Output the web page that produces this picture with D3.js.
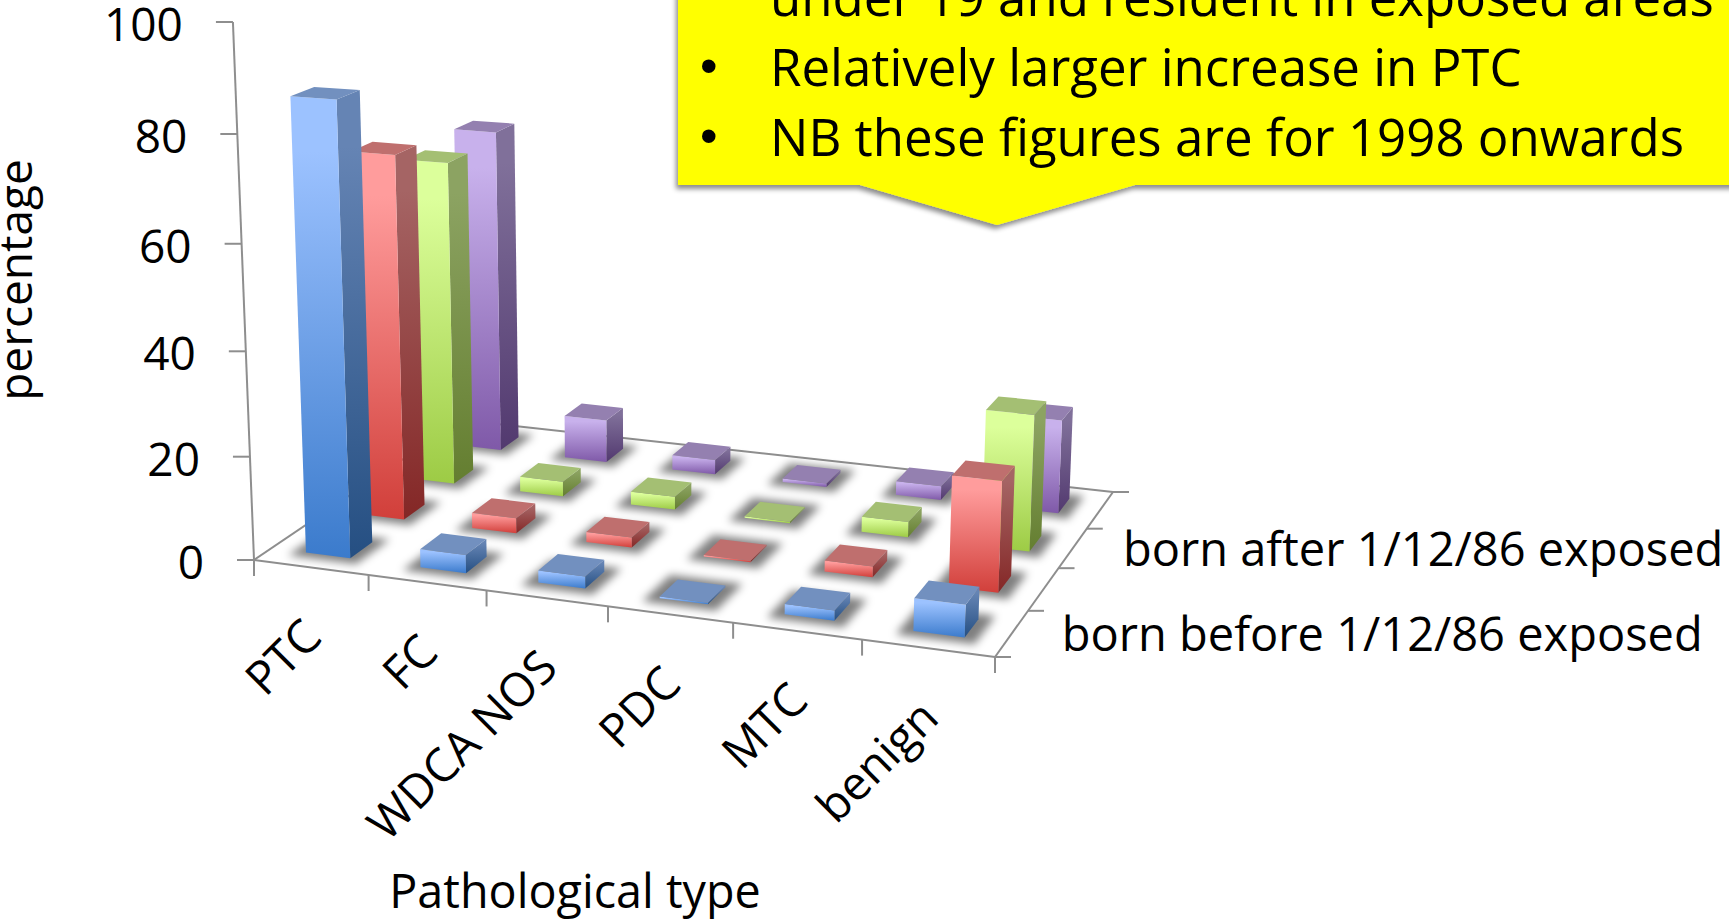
<!DOCTYPE html>
<html lang="en">
	<head>
		<meta charset="utf-8">
		<title>Pathological type, 3D columns</title>
		<script type="text/javascript" src="https://cdn.jsdelivr.net/npm/d3@7"></script>
		<style type="text/css">
			html, body { margin: 0; padding: 0; background: white; }
			svg { display: block; }
			text { font-family: "Open Sans", sans-serif; fill: black; }
		</style>
	</head>
	<body>
		<script type="text/javascript">

			//The data
			var categories = ["PTC", "FC", "WDCA NOS", "PDC", "MTC", "benign"];
			var seriesNames = ["born before 1/12/86 exposed", "", "born after 1/12/86 exposed", ""];
			var seriesA = [86, 3.5, 2.3, 0.3, 1.9, 6];
			var seriesB = [71.3, 3, 2, 0.3, 2.1, 21];
			var seriesC = [65, 3, 2.6, 0.3, 3, 26.5];
			var seriesD = [66.5, 8.8, 3, 0.7, 2.8, 18.7];
			var yTicks = [0, 20, 40, 60, 80, 100];
			var calloutLines = ["under 19 and resident in exposed areas", "Relatively larger increase in PTC", "NB these figures are for 1998 onwards"];

			//Width and height
			var w = 1729;
			var h = 923;

			var seriesValues = [seriesA, seriesB, seriesC, seriesD];

			//Face colours for each series
			var faceColors = [
				{ frontTop: "#9cc2ff", frontBottom: "#3b7bcc", sideTop: "#6584b4", sideBottom: "#254f82", top: "#7290bf" },
				{ frontTop: "#ff9c9c", frontBottom: "#d13f3a", sideTop: "#a56464", sideBottom: "#842726", top: "#bf6f6e" },
				{ frontTop: "#dcff9b", frontBottom: "#9dcb45", sideTop: "#8ca362", sideBottom: "#647e30", top: "#a4bf73" },
				{ frontTop: "#c8b1ec", frontBottom: "#7f59a8", sideTop: "#80709a", sideBottom: "#52396f", top: "#9480b0" }
			];

			//Floor corners on screen: front left, front right, back right, back left
			var floor = [[254, 560], [995, 657], [1113, 492], [461, 420]];
			//Where the verticals meet, and how strong the height column is
			var vanish = [659, 10900];
			var heightW = -0.04946;

			//Square to quad homography
			var dx1 = floor[1][0] - floor[2][0], dx2 = floor[3][0] - floor[2][0];
			var dy1 = floor[1][1] - floor[2][1], dy2 = floor[3][1] - floor[2][1];
			var sx = floor[0][0] - floor[1][0] + floor[2][0] - floor[3][0];
			var sy = floor[0][1] - floor[1][1] + floor[2][1] - floor[3][1];
			var det = dx1 * dy2 - dx2 * dy1;
			var pg = (sx * dy2 - dx2 * sy) / det;
			var ph = (dx1 * sy - sx * dy1) / det;
			var pa = floor[1][0] - floor[0][0] + pg * floor[1][0];
			var pb = floor[3][0] - floor[0][0] + ph * floor[3][0];
			var pd = floor[1][1] - floor[0][1] + pg * floor[1][1];
			var pe = floor[3][1] - floor[0][1] + ph * floor[3][1];

			//u along categories, v into the picture, t up, all 0 to 1
			var project = function(u, v, t) {
				var cw = t * heightW;
				var pw = pg * u + ph * v + 1 + cw;
				return [
					(pa * u + pb * v + floor[0][0] + cw * vanish[0]) / pw,
					(pd * u + pe * v + floor[0][1] + cw * vanish[1]) / pw
				];
			};

			//Scales
			var xScale = d3.scaleBand()
							.domain(categories)
							.range([0, 1])
							.paddingInner(0.61)
							.paddingOuter(0.305);

			var zScale = d3.scaleBand()
							.domain(d3.range(seriesNames.length))
							.range([0, 1])
							.paddingInner(0.6)
							.paddingOuter(0.3);

			var yScale = d3.scaleLinear()
							.domain([0, 100])
							.range([0, 1]);

			var line = d3.line();
			var polygon = function(points) { return line(points) + "Z"; };

			//Create SVG element
			var svg = d3.select("body")
						.append("svg")
						.attr("width", w)
						.attr("height", h);

			var defs = svg.append("defs");

			var blur = defs.append("filter")
							.attr("id", "soft")
							.attr("x", "-40%").attr("y", "-60%")
							.attr("width", "180%").attr("height", "220%");
			blur.append("feGaussianBlur").attr("stdDeviation", 4.5);

			var callShadow = defs.append("filter")
							.attr("id", "callShadow")
							.attr("x", "-5%").attr("y", "-5%")
							.attr("width", "110%").attr("height", "115%");
			callShadow.append("feDropShadow")
						.attr("dx", -2).attr("dy", 4)
						.attr("stdDeviation", 2.5)
						.attr("flood-color", "#000")
						.attr("flood-opacity", 0.45);

			//Vertical gradients per series
			faceColors.forEach(function(c, i) {
				[["front", c.frontTop, c.frontBottom], ["side", c.sideTop, c.sideBottom]].forEach(function(f) {
					var grad = defs.append("linearGradient")
									.attr("id", f[0] + i)
									.attr("x1", 0).attr("y1", 0)
									.attr("x2", 0).attr("y2", 1);
					grad.append("stop").attr("offset", "12%").attr("stop-color", f[1]);
					grad.append("stop").attr("offset", "100%").attr("stop-color", f[2]);
				});
			});

			var axisColor = "#8e8e8e";
			var axes = svg.append("g")
							.attr("stroke", axisColor)
							.attr("stroke-width", 2)
							.attr("fill", "none");

			var drawLine = function(a, b) {
				axes.append("path").attr("d", line([a, b]));
			};

			//Floor edges and the upright axis
			drawLine(project(0, 0, 0), project(1, 0, 0));
			drawLine(project(1, 0, 0), project(1, 1, 0));
			drawLine(project(1, 1, 0), project(0, 1, 0));
			drawLine(project(0, 1, 0), project(0, 0, 0));
			drawLine(project(0, 0, 0), project(0, 0, 1));

			//Y ticks and labels
			yTicks.forEach(function(d) {
				var p = project(0, 0, yScale(d));
				drawLine(p, [p[0] - 17, p[1]]);
				svg.append("text")
					.attr("x", p[0] - 50)
					.attr("y", p[1] + 19)
					.attr("text-anchor", "end")
					.attr("font-size", 46)
					.text(d);
			});

			//X ticks
			d3.range(categories.length + 1).forEach(function(i) {
				var p = project(i * xScale.step(), 0, 0);
				drawLine(p, [p[0], p[1] + 16]);
			});

			//Depth ticks
			d3.range(seriesNames.length + 1).forEach(function(i) {
				var p = project(1, i * zScale.step(), 0);
				drawLine(p, [p[0] + 16, p[1]]);
			});

			//Bars, back row first
			var rows = d3.range(seriesNames.length).reverse();
			var shadows = svg.append("g").attr("filter", "url(#soft)");
			var bars = svg.append("g");

			rows.forEach(function(s) {
				categories.forEach(function(cat, i) {
					var u0 = xScale(cat), u1 = u0 + xScale.bandwidth();
					var v0 = zScale(s), v1 = v0 + zScale.bandwidth();
					var t = yScale(seriesValues[s][i]);
					var grow = 0.017;

					shadows.append("path")
						.attr("d", polygon([
							project(u0 - grow, v0 - grow * 1.6, 0),
							project(u1 + grow, v0 - grow * 1.6, 0),
							project(u1 + grow, v1 + grow * 1.6, 0),
							project(u0 - grow, v1 + grow * 1.6, 0)
						]))
						.attr("fill", "#000")
						.attr("fill-opacity", 0.5);

					var g = bars.append("g");

					g.append("path")
						.attr("d", polygon([project(u1, v0, 0), project(u1, v1, 0), project(u1, v1, t), project(u1, v0, t)]))
						.attr("fill", "url(#side" + s + ")");

					g.append("path")
						.attr("d", polygon([project(u0, v0, 0), project(u1, v0, 0), project(u1, v0, t), project(u0, v0, t)]))
						.attr("fill", "url(#front" + s + ")");

					g.append("path")
						.attr("d", polygon([project(u0, v0, t), project(u1, v0, t), project(u1, v1, t), project(u0, v1, t)]))
						.attr("fill", faceColors[s].top);
				});
			});

			//Category labels
			categories.forEach(function(cat) {
				var p = project(xScale(cat) + xScale.bandwidth() / 2, 0, 0);
				svg.append("text")
					.attr("transform", "translate(" + (p[0] + 13) + "," + (p[1] + 72) + ") rotate(-45)")
					.attr("text-anchor", "end")
					.attr("font-size", 46.5)
					.text(cat);
			});

			//Series labels, only the ones the chart prints
			seriesNames.forEach(function(name, s) {
				if (!name) { return; }
				var p = project(1, zScale(s) + zScale.bandwidth() / 2, 0);
				svg.append("text")
					.attr("x", p[0] + 50)
					.attr("y", p[1] + 18)
					.attr("font-size", 47)
					.text(name);
			});

			//Axis titles
			svg.append("text")
				.attr("x", 575)
				.attr("y", 908)
				.attr("text-anchor", "middle")
				.attr("font-size", 46.7)
				.text("Pathological type");

			svg.append("text")
				.attr("transform", "translate(32,280) rotate(-90)")
				.attr("text-anchor", "middle")
				.attr("font-size", 46)
				.text("percentage");

			//Callout, runs off the top and the right of the picture
			svg.append("path")
				.attr("d", polygon([[678, -20], [1740, -20], [1740, 185], [1135, 185], [997, 225], [860, 185], [678, 185]]))
				.attr("fill", "#ffff00")
				.attr("filter", "url(#callShadow)");

			calloutLines.forEach(function(txt, i) {
				svg.append("text")
					.attr("x", 770)
					.attr("y", 16 + i * 70)
					.attr("font-size", 51)
					.text(txt);
				if (i > 0) {
					svg.append("text")
						.attr("x", 700)
						.attr("y", 13 + i * 70)
						.attr("font-size", 50)
						.style("font-family", "'Liberation Sans', sans-serif")
						.text("\u2022");
				}
			});

		</script>
	</body>
</html>
